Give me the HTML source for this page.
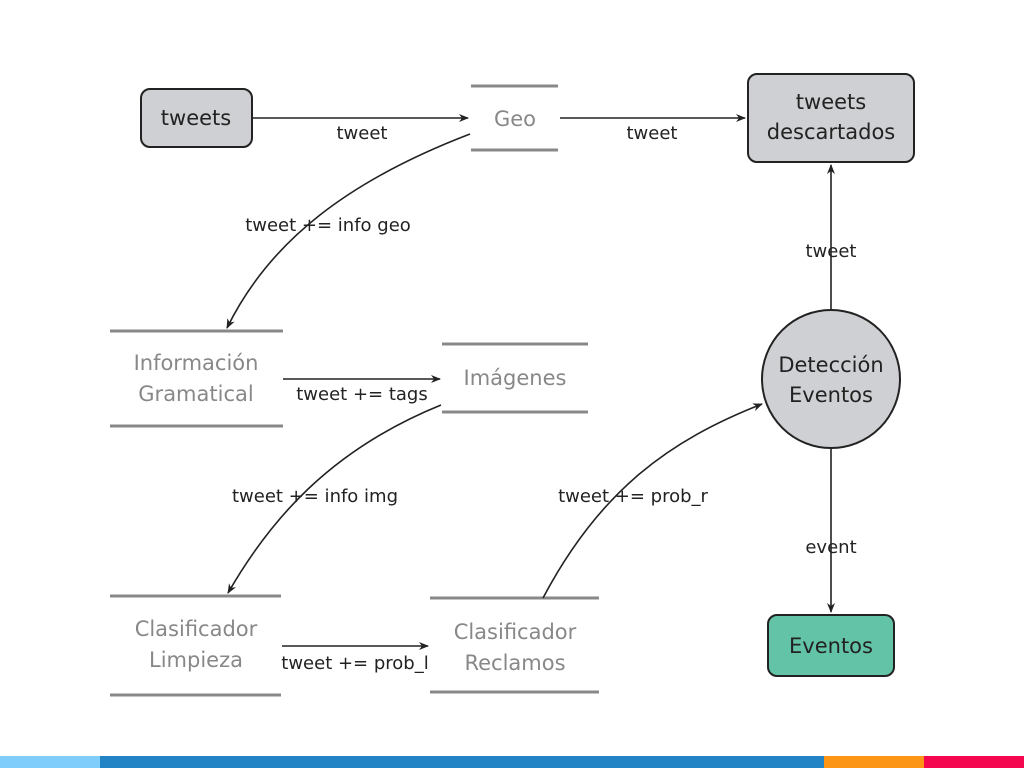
<!DOCTYPE html>
<html><head><meta charset="utf-8"><style>
body{margin:0;width:1024px;height:768px;background:#fff;overflow:hidden}
svg{display:block}
text{font-family:"DejaVu Sans","Liberation Sans",sans-serif}
</style></head><body>
<svg width="1024" height="768" viewBox="0 0 1024 768">
<defs><marker id="a" markerWidth="10" markerHeight="8" refX="9" refY="4" orient="auto" markerUnits="userSpaceOnUse"><path d="M0,0 L10,4 L0,8 L3,4 Z" fill="#222"/></marker></defs>
<g stroke="#888" stroke-width="3">
<line x1="471" y1="86" x2="558" y2="86"/><line x1="471" y1="150" x2="558" y2="150"/>
<line x1="110" y1="331" x2="283" y2="331"/><line x1="110" y1="426" x2="283" y2="426"/>
<line x1="442" y1="344" x2="588" y2="344"/><line x1="442" y1="412" x2="588" y2="412"/>
<line x1="110" y1="596" x2="281" y2="596"/><line x1="110" y1="695" x2="281" y2="695"/>
<line x1="430" y1="598" x2="599" y2="598"/><line x1="430" y1="692" x2="599" y2="692"/>
</g>
<rect x="141" y="89" width="111" height="58" rx="9" fill="#cfd0d3" stroke="#222" stroke-width="2"/>
<rect x="748" y="74" width="166" height="88" rx="9" fill="#cfd0d3" stroke="#222" stroke-width="2"/>
<rect x="768" y="615" width="126" height="61" rx="9" fill="#62c3a6" stroke="#222" stroke-width="2"/>
<circle cx="831" cy="379" r="69" fill="#cfd0d3" stroke="#222" stroke-width="2"/>
<g stroke="#222" stroke-width="1.6" fill="none" marker-end="url(#a)">
<line x1="253" y1="118" x2="468" y2="118"/>
<line x1="560" y1="118" x2="745" y2="118"/>
<path d="M470,134 C350,180 270,240 227,328"/>
<line x1="283" y1="379" x2="440" y2="379"/>
<path d="M441,405 C330,450 270,520 228,593"/>
<line x1="282" y1="646" x2="428" y2="646"/>
<path d="M543,598 C600,490 670,440 762,404"/>
<line x1="831" y1="310" x2="831" y2="165"/>
<line x1="831" y1="448" x2="831" y2="612"/>
</g>
<g font-size="21" text-anchor="middle" fill="#222">
<text x="196" y="125">tweets</text>
<text x="831" y="109">tweets</text><text x="831" y="139">descartados</text>
<text x="831" y="372">Detección</text><text x="831" y="402">Eventos</text>
<text x="831" y="653">Eventos</text>
</g>
<g font-size="21" text-anchor="middle" fill="#888">
<text x="515" y="126">Geo</text>
<text x="196" y="370">Información</text><text x="196" y="401">Gramatical</text>
<text x="515" y="385">Imágenes</text>
<text x="196" y="636">Clasificador</text><text x="196" y="667">Limpieza</text>
<text x="515" y="639">Clasificador</text><text x="515" y="670">Reclamos</text>
</g>
<g font-size="18" fill="#222" text-anchor="middle">
<text x="362" y="139">tweet</text>
<text x="652" y="139">tweet</text>
<text x="328" y="231">tweet += info geo</text>
<text x="362" y="400">tweet += tags</text>
<text x="315" y="502">tweet += info img</text>
<text x="633" y="502">tweet += prob_r</text>
<text x="355" y="669">tweet += prob_l</text>
<text x="831" y="257">tweet</text>
<text x="831" y="553">event</text>
</g>
<rect x="0" y="756" width="100" height="12" fill="#7fcdfb"/>
<rect x="100" y="756" width="724" height="12" fill="#2283c5"/>
<rect x="824" y="756" width="100" height="12" fill="#fc9516"/>
<rect x="924" y="756" width="100" height="12" fill="#f4074f"/>
</svg>
</body></html>
